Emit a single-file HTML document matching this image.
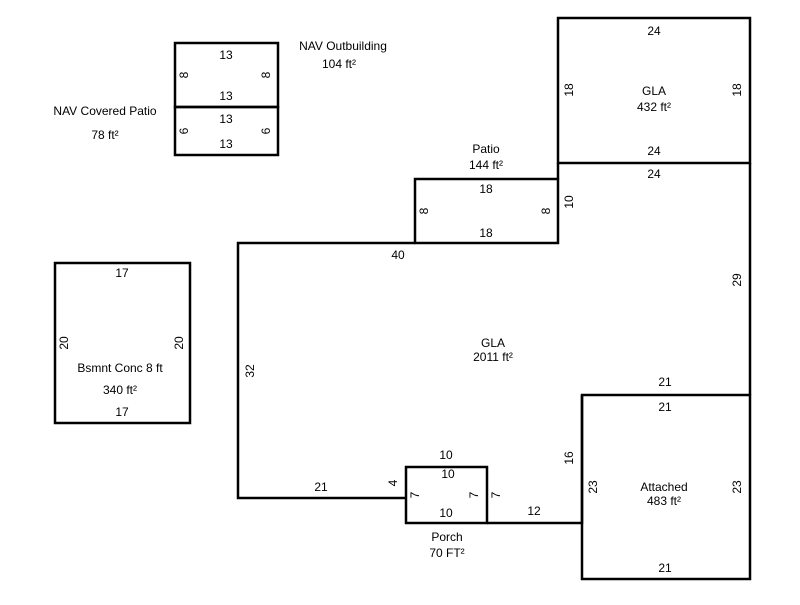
<!DOCTYPE html>
<html><head><style>body{margin:0;background:#fff}svg text{font-family:"Liberation Sans",Arial,sans-serif;font-size:12px;fill:#000}</style></head><body>
<svg width="800" height="600" xmlns="http://www.w3.org/2000/svg">
<g fill="none" stroke="#000" stroke-width="2.5">
<rect x="175" y="43" width="103" height="64"/>
<rect x="175" y="107" width="103" height="48"/>
<rect x="55" y="263" width="135" height="160"/>
<rect x="558" y="18" width="192" height="145"/>
<rect x="415" y="179" width="143" height="64"/>
<rect x="582" y="395" width="168" height="184"/>
<rect x="406" y="467" width="81" height="56"/>
<polyline points="415,243 238,243 238,498 406,498"/>
<polyline points="558,179 558,163"/>
<polyline points="750,163 750,395"/>
<polyline points="582,395 582,523 487,523"/>
</g>
<g text-anchor="middle">
<text x="226" y="59">13</text><text x="226" y="100">13</text>
<text x="226" y="123">13</text><text x="226" y="148">13</text>
<text x="343" y="50">NAV Outbuilding</text><text x="339" y="68">104 ft²</text>
<text x="105" y="115">NAV Covered Patio</text><text x="105" y="139">78 ft²</text>
<text x="122" y="277">17</text><text x="122" y="416">17</text>
<text x="120" y="372">Bsmnt Conc 8 ft</text><text x="120" y="394">340 ft²</text>
<text x="654" y="35">24</text><text x="654" y="155">24</text><text x="654" y="178">24</text>
<text x="654" y="95">GLA</text><text x="654" y="111">432 ft²</text>
<text x="486" y="153">Patio</text><text x="486" y="169">144 ft²</text>
<text x="486" y="193">18</text><text x="486" y="237">18</text>
<text x="398" y="259">40</text>
<text x="493" y="347">GLA</text><text x="493" y="361">2011 ft²</text>
<text x="665" y="386">21</text><text x="665" y="411">21</text><text x="665" y="572">21</text>
<text x="664" y="491">Attached</text><text x="664" y="505">483 ft²</text>
<text x="321" y="491">21</text>
<text x="446" y="459">10</text><text x="448" y="478">10</text><text x="446" y="517">10</text>
<text x="534" y="515">12</text>
<text x="447" y="541">Porch</text><text x="447" y="557">70 FT²</text>
</g>
<g text-anchor="middle">
<text transform="translate(188,75) rotate(-90)">8</text>
<text transform="translate(270,75) rotate(-90)">8</text>
<text transform="translate(188,131) rotate(-90)">6</text>
<text transform="translate(270,131) rotate(-90)">6</text>
<text transform="translate(68,343) rotate(-90)">20</text>
<text transform="translate(183,343) rotate(-90)">20</text>
<text transform="translate(573,90) rotate(-90)">18</text>
<text transform="translate(741,90) rotate(-90)">18</text>
<text transform="translate(428,211) rotate(-90)">8</text>
<text transform="translate(550,211) rotate(-90)">8</text>
<text transform="translate(573,202) rotate(-90)">10</text>
<text transform="translate(741,280) rotate(-90)">29</text>
<text transform="translate(254,371) rotate(-90)">32</text>
<text transform="translate(573,458) rotate(-90)">16</text>
<text transform="translate(597,487) rotate(-90)">23</text>
<text transform="translate(741,487) rotate(-90)">23</text>
<text transform="translate(397,483) rotate(-90)">4</text>
<text transform="translate(419,495) rotate(-90)">7</text>
<text transform="translate(478,495) rotate(-90)">7</text>
<text transform="translate(500,495) rotate(-90)">7</text>
</g>
</svg>
</body></html>
